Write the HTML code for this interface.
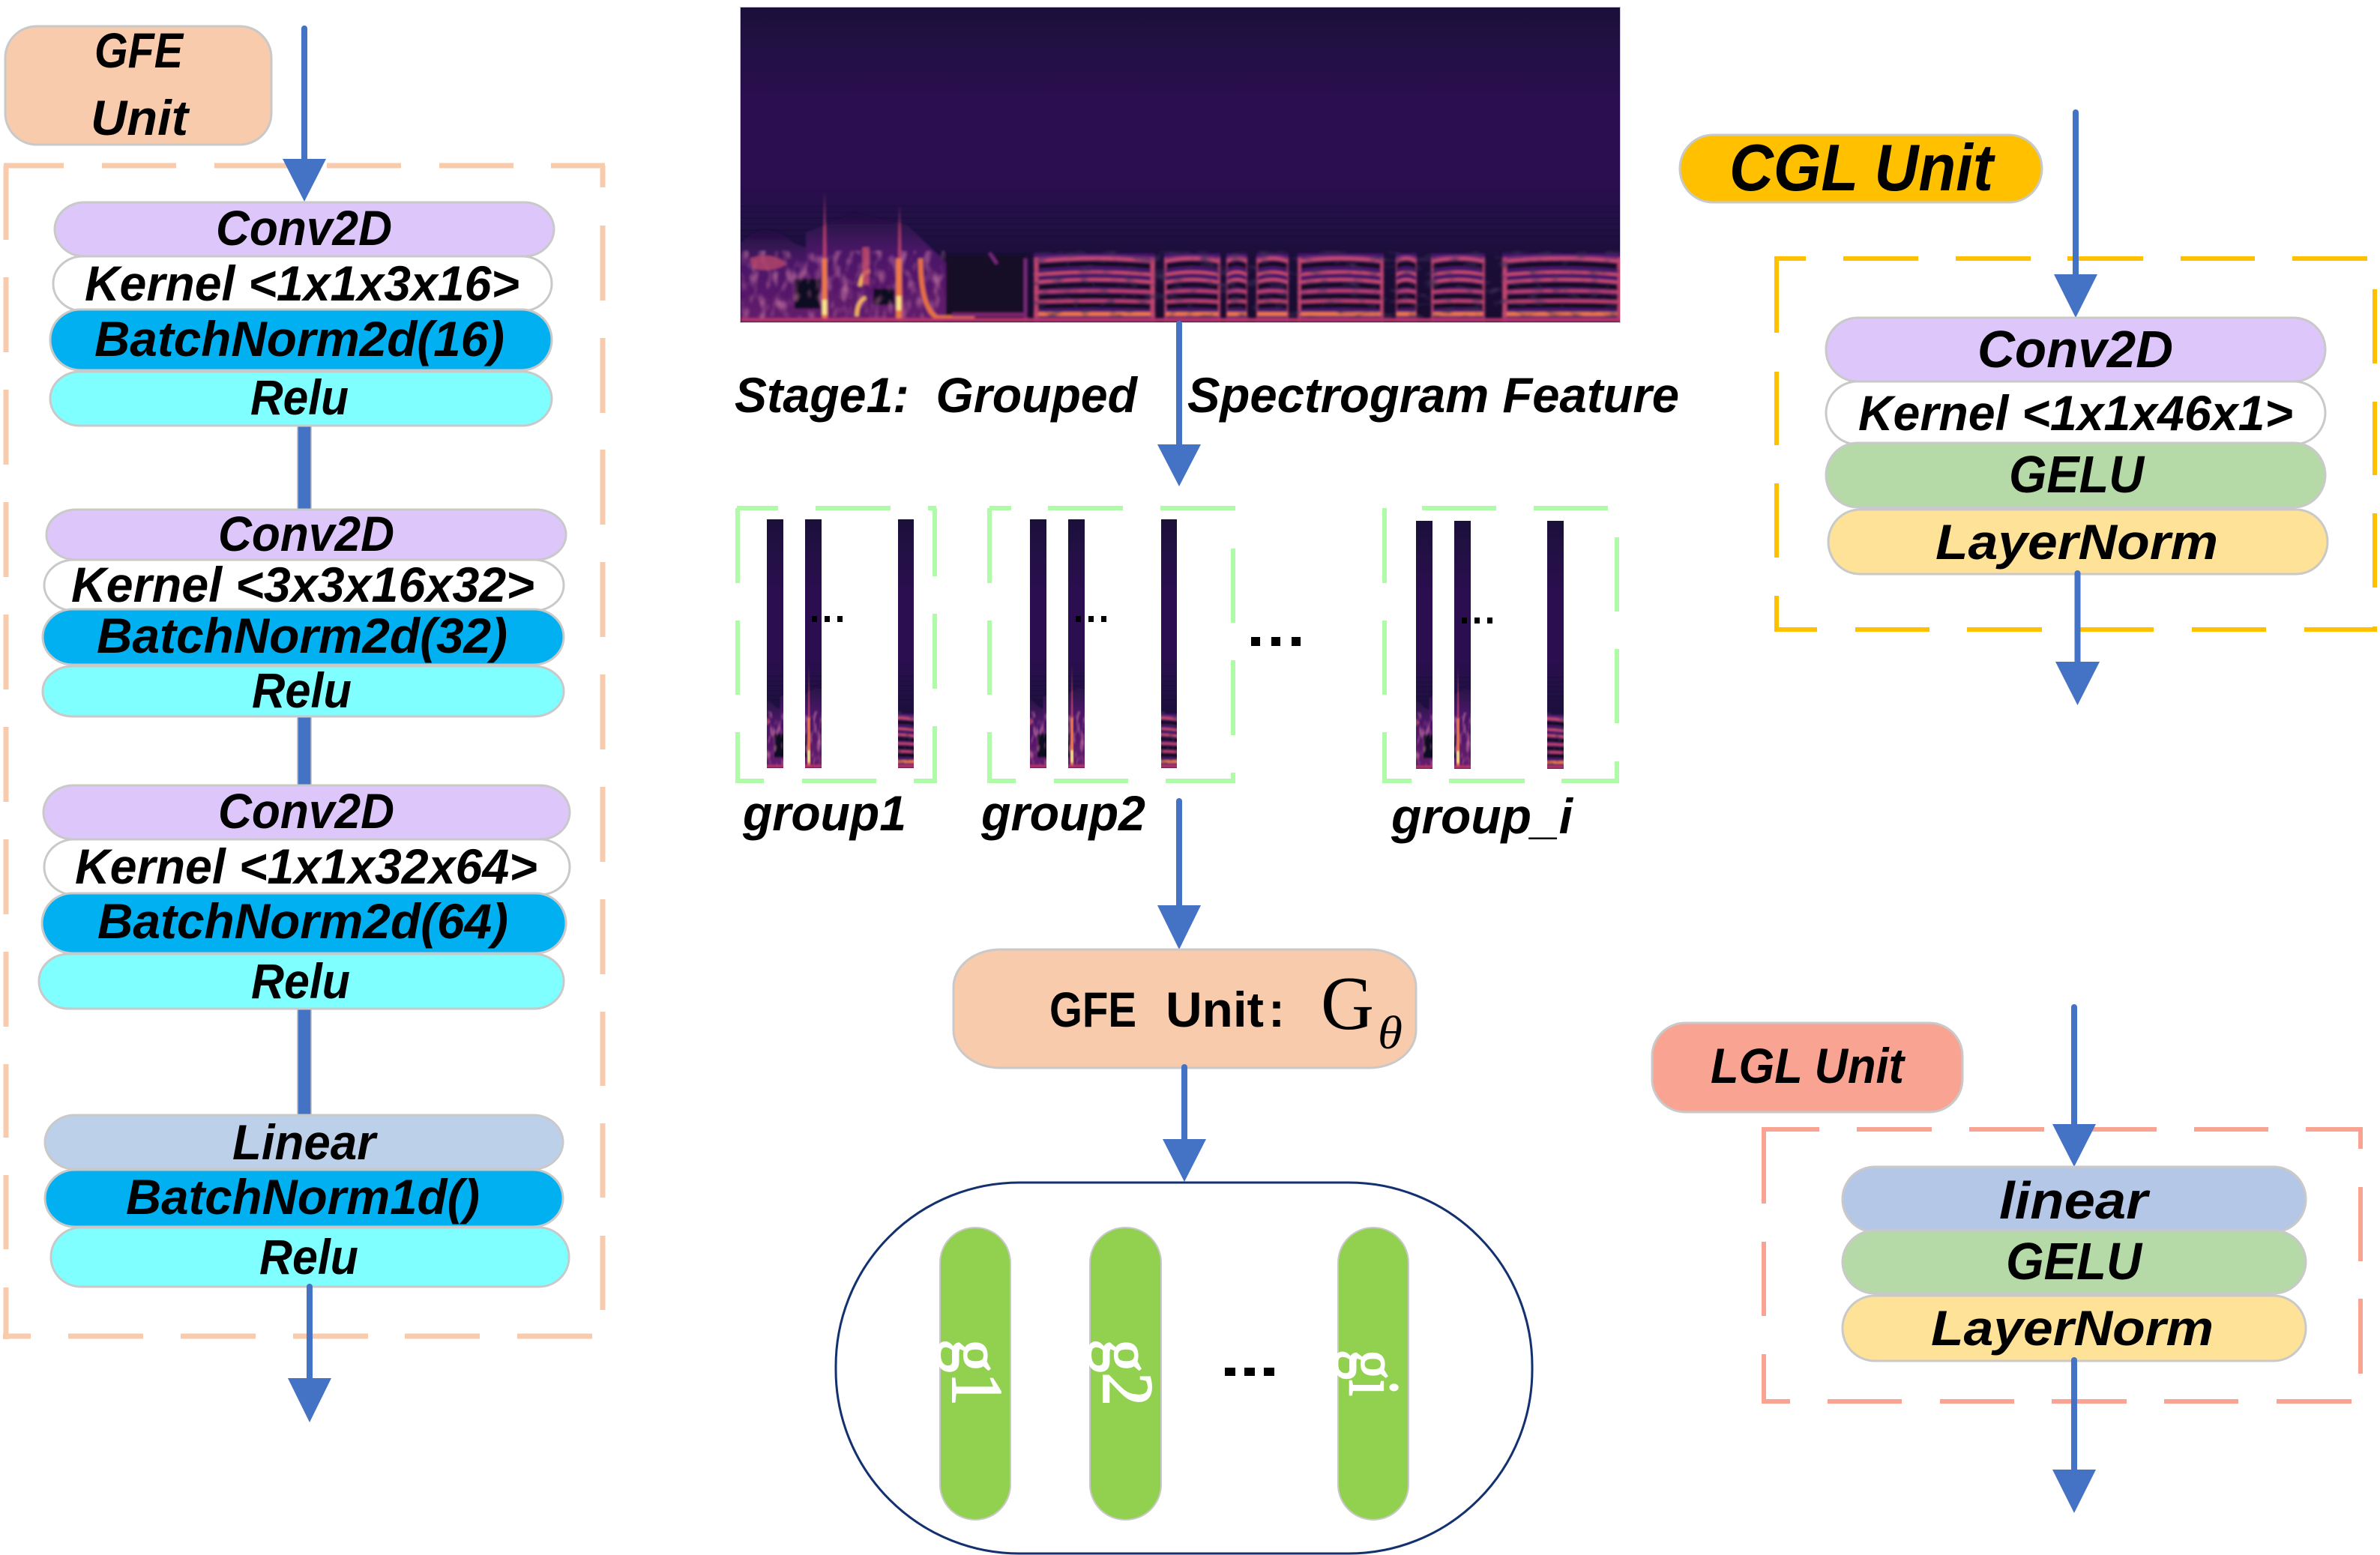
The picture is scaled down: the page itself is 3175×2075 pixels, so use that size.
<!DOCTYPE html>
<html><head><meta charset="utf-8"><title>GFE CGL LGL diagram</title>
<style>
html,body{margin:0;padding:0;background:#fff}
svg{display:block}
.t{font-family:"Liberation Sans",sans-serif;font-weight:bold;font-style:italic;font-size:66px;fill:#000;transform:translate(-2px,-1px)}
.p{stroke:#c9c9c9;stroke-width:3}
.a{stroke:#4472c4;stroke-width:8;stroke-linecap:round;fill:none}
.h{fill:#4472c4}
.c{fill:#4472c4;stroke:#b9b9b9;stroke-width:1.5}
.go{stroke:#f7cbac;stroke-width:7;fill:none}
.gy{stroke:#ffc000;stroke-width:6;fill:none}
.gs{stroke:#f9a392;stroke-width:6;fill:none}
.gg{stroke:#b0fba8;stroke-width:6;fill:none}
.d{fill:#000}
</style></head><body>
<svg xmlns="http://www.w3.org/2000/svg" width="3175" height="2075" viewBox="0 0 3175 2075">
<defs>
<linearGradient id="bg" x1="0" y1="0" x2="0" y2="1">
<stop offset="0" stop-color="#1a0f3a"/><stop offset=".12" stop-color="#221043"/><stop offset=".3" stop-color="#2b0e50"/><stop offset=".55" stop-color="#2b0e50"/><stop offset=".68" stop-color="#221045"/><stop offset=".76" stop-color="#1c0f3e"/><stop offset=".8" stop-color="#1a0e38"/><stop offset="1" stop-color="#170b2e"/>
</linearGradient>
<linearGradient id="lw" x1="0" y1="0" x2="0" y2="1">
<stop offset="0" stop-color="#20103f"/><stop offset=".35" stop-color="#4a1668"/><stop offset="1" stop-color="#641c6c"/>
</linearGradient>
<filter id="bl" x="-5%" y="-5%" width="110%" height="110%"><feGaussianBlur stdDeviation="1.6"/></filter>
<filter id="nd" x="0" y="0" width="100%" height="100%">
<feTurbulence type="fractalNoise" baseFrequency="0.05 0.12" numOctaves="2" seed="4"/>
<feColorMatrix values="0 0 0 0 .05  0 0 0 0 .03  0 0 0 0 .1  2.4 0 0 0 -1.25"/>
</filter>
<filter id="nm" x="0" y="0" width="100%" height="100%">
<feTurbulence type="fractalNoise" baseFrequency="0.09 0.05" numOctaves="2" seed="9"/>
<feColorMatrix values="0 0 0 0 .75  0 0 0 0 .25  0 0 0 0 .42  2.2 0 0 0 -1.05"/>
</filter>
<clipPath id="sc"><rect x="988" y="10" width="1173" height="420"/></clipPath>
<g id="ha" fill="none">
<rect x="0" y="8" width="100" height="92" fill="#45146a"/>
<path d="M0 26Q50 18 100 26M0 54Q50 46 100 54M0 67Q50 63 100 67M0 79Q50 76 100 79" stroke="#0c0716" stroke-width="6"/>
<path d="M0 15Q50 9 100 15" stroke="#85307e" stroke-width="2.5"/>
<path d="M0 19Q50 11 100 19M0 37Q50 29 100 37M0 47Q50 39 100 47" stroke="#d0506a" stroke-width="3.5"/>
<path d="M0 60Q50 56 100 60M0 73Q50 70 100 73" stroke="#c4456a" stroke-width="3.5"/>
<path d="M0 89L100 89" stroke="#f07848" stroke-width="5"/>
<path d="M2 14V100M98 14V100" stroke="#c04470" stroke-width="3.5"/>
<path d="M0 96L100 96" stroke="#a0306c" stroke-width="4"/>
</g>
<g id="spec" clip-path="url(#sc)">
<rect x="988" y="10" width="1173" height="420" fill="url(#bg)"/>
<g stroke="#150c2e" stroke-width="2" opacity=".3"><path d="M988 275H2161M988 283H2161M988 291H2161M988 299H2161M988 307H2161M988 315H2161"/></g>
<g filter="url(#bl)">
<path d="M988 430V325Q1020 290 1060 325L1090 335V430Z" fill="url(#lw)"/>
<path d="M1075 310L1140 285 1210 300 1262 350V430H1075Z" fill="url(#lw)"/>
<rect x="1060" y="372" width="34" height="40" fill="#110a22"/>
<rect x="1165" y="385" width="28" height="22" fill="#110a22"/>
<rect x="1262" y="340" width="110" height="90" fill="#130b26"/>
<rect x="988" y="335" width="272" height="95" filter="url(#nm)" opacity=".8"/>
<path d="M1000 345Q1030 335 1050 352Q1030 365 1005 358Z" fill="#b8476a" opacity=".8"/>
<path d="M1096 430L1100 255 1105 430Z" fill="#b8406c"/>
<path d="M1196 430L1200 272 1205 430Z" fill="#b8406c"/>
<path d="M1100 345V428" stroke="#f07a44" stroke-width="6"/>
<path d="M1199 345V425" stroke="#f07a44" stroke-width="7"/>
<path d="M1100 400V420M1199 395V414" stroke="#fbe48c" stroke-width="6"/>
<path d="M1143 422Q1143 402 1155 397M1147 382Q1150 362 1160 362" stroke="#f7b05a" stroke-width="5" fill="none"/>
<path d="M1228 345Q1228 410 1250 424H1300" stroke="#e8703f" stroke-width="6" fill="none"/>
<path d="M1155 330V380" stroke="#c84e6a" stroke-width="9" opacity=".8"/>
<path d="M1320 337L1330 352M1368 345V430" stroke="#7a2a80" stroke-width="4"/>
<path d="M1270 420H1370" stroke="#7d2872" stroke-width="5"/>
<use href="#ha" transform="translate(1379 330)scale(1.62 1)"/>
<use href="#ha" transform="translate(1553 330)scale(.75 1)"/>
<use href="#ha" transform="translate(1636 330)scale(.28 1)"/>
<use href="#ha" transform="translate(1676 330)scale(.43 1)"/>
<use href="#ha" transform="translate(1731 330)scale(1.15 1)"/>
<use href="#ha" transform="translate(1862 330)scale(.28 1)"/>
<use href="#ha" transform="translate(1909 330)scale(.72 1)"/>
<use href="#ha" transform="translate(2004 330)scale(1.6 1)"/>
<rect x="1379" y="335" width="782" height="95" filter="url(#nd)"/>
<path d="M988 427H2161" stroke="#b5366c" stroke-width="5"/>
</g>
</g>
</defs>
<rect width="3175" height="2075" fill="#fff"/>

<!-- GFE left -->
<rect x="7" y="35" width="355" height="158" rx="42" ry="42" fill="#f7cbac" class="p"/>
<text class="t" x="128" y="91" textLength="118" lengthAdjust="spacingAndGlyphs">GFE</text>
<text class="t" x="123" y="181" textLength="130" lengthAdjust="spacingAndGlyphs">Unit</text>

<path class="go" d="M8 221V320M8 370V470M8 520V620M8 670V770M8 820V920M8 970V1070M8 1120V1220M8 1270V1370M8 1420V1518M8 1568V1667M8 1718V1787"/>
<path class="go" d="M804 221V250M804 301V401M804 451V551M804 600V700M804 750V850M804 900V1000M804 1050V1150M804 1200V1300M804 1350V1449M804 1499V1598M804 1649V1748"/>
<path class="go" d="M5 221H85M136 221H235M286 221H386M436 221H535M586 221H685M735 221H807"/>
<path class="go" d="M4 1783H41M91 1783H191M241 1783H341M391 1783H491M540 1783H640M690 1783H790"/>

<rect class="c" x="397" y="566" width="18" height="116"/>
<rect class="c" x="397" y="954" width="18" height="96"/>
<rect class="c" x="397" y="1344" width="18" height="146"/>

<line class="a" x1="406" y1="38" x2="406" y2="220"/>
<path class="h" d="M377 212H435L406 269Z"/>

<rect class="p" x="73" y="270" width="666" height="72" rx="40" ry="36" fill="#dcc6fa"/>
<rect class="p" x="71" y="342" width="665" height="73" rx="40" ry="36" fill="#fff"/>
<rect class="p" x="67" y="413" width="669" height="81" rx="40" ry="40" fill="#00b0f0"/>
<rect class="p" x="67" y="496" width="669" height="72" rx="40" ry="36" fill="#7fffff"/>
<text class="t" x="290" y="328" textLength="235" lengthAdjust="spacingAndGlyphs">Conv2D</text>
<text class="t" x="115" y="402" textLength="580" lengthAdjust="spacingAndGlyphs">Kernel &lt;1x1x3x16&gt;</text>
<text class="t" x="128" y="476" textLength="547" lengthAdjust="spacingAndGlyphs">BatchNorm2d(16)</text>
<text class="t" x="336" y="554" textLength="131" lengthAdjust="spacingAndGlyphs">Relu</text>

<rect class="p" x="62" y="680" width="693" height="67" rx="40" ry="33" fill="#dcc6fa"/>
<rect class="p" x="59" y="747" width="693" height="68" rx="40" ry="34" fill="#fff"/>
<rect class="p" x="57" y="813" width="695" height="74" rx="40" ry="37" fill="#00b0f0"/>
<rect class="p" x="57" y="889" width="695" height="67" rx="40" ry="33" fill="#7fffff"/>
<text class="t" x="293" y="736" textLength="235" lengthAdjust="spacingAndGlyphs">Conv2D</text>
<text class="t" x="97" y="804" textLength="618" lengthAdjust="spacingAndGlyphs">Kernel &lt;3x3x16x32&gt;</text>
<text class="t" x="131" y="872" textLength="548" lengthAdjust="spacingAndGlyphs">BatchNorm2d(32)</text>
<text class="t" x="338" y="945" textLength="133" lengthAdjust="spacingAndGlyphs">Relu</text>

<rect class="p" x="58" y="1048" width="702" height="72" rx="40" ry="36" fill="#dcc6fa"/>
<rect class="p" x="59" y="1120" width="701" height="74" rx="40" ry="37" fill="#fff"/>
<rect class="p" x="56" y="1192" width="699" height="80" rx="40" ry="40" fill="#00b0f0"/>
<rect class="p" x="52" y="1273" width="700" height="73" rx="40" ry="36" fill="#7fffff"/>
<text class="t" x="293" y="1106" textLength="235" lengthAdjust="spacingAndGlyphs">Conv2D</text>
<text class="t" x="102" y="1180" textLength="617" lengthAdjust="spacingAndGlyphs">Kernel &lt;1x1x32x64&gt;</text>
<text class="t" x="132" y="1253" textLength="548" lengthAdjust="spacingAndGlyphs">BatchNorm2d(64)</text>
<text class="t" x="337" y="1333" textLength="132" lengthAdjust="spacingAndGlyphs">Relu</text>

<rect class="p" x="60" y="1488" width="691" height="72" rx="40" ry="36" fill="#bdd0e9"/>
<rect class="p" x="60" y="1561" width="691" height="76" rx="40" ry="38" fill="#00b0f0"/>
<rect class="p" x="68" y="1638" width="691" height="79" rx="40" ry="39" fill="#7fffff"/>
<text class="t" x="312" y="1548" textLength="191" lengthAdjust="spacingAndGlyphs">Linear</text>
<text class="t" x="170" y="1621" textLength="472" lengthAdjust="spacingAndGlyphs">BatchNorm1d()</text>
<text class="t" x="348" y="1701" textLength="132" lengthAdjust="spacingAndGlyphs">Relu</text>

<line class="a" x1="413" y1="1717" x2="413" y2="1845" stroke-linecap="butt"/>
<path class="h" d="M384 1839H442L413 1898Z"/>

<!-- Spectrogram -->
<rect x="987" y="9" width="1175" height="422" fill="#c8c8d0"/>
<use href="#spec"/>
<line class="a" x1="1573" y1="432" x2="1573" y2="600"/>
<path class="h" d="M1544 593H1602L1573 649Z"/>
<text class="t" x="982" y="551" textLength="537" lengthAdjust="spacingAndGlyphs" xml:space="preserve">Stage1:  Grouped</text>
<text class="t" x="1586" y="551" textLength="656" lengthAdjust="spacingAndGlyphs">Spectrogram Feature</text>

<!-- Groups -->
<path class="gg" d="M983 678H1038M1088 678H1188M1238 678H1249"/>
<path class="gg" d="M984 678V778M984 828V927M984 977V1042"/>
<path class="gg" d="M1247 678V769M1247 819V919M1247 969V1042"/>
<path class="gg" d="M981 1042H1019M1070 1042H1169M1219 1042H1250"/>
<path class="gg" d="M1320 678H1349M1398 678H1498M1548 678H1648"/>
<path class="gg" d="M1320 678V778M1320 828V927M1320 977V1042"/>
<path class="gg" d="M1645 732V831M1645 881V981M1645 1031V1042"/>
<path class="gg" d="M1317 1042H1355M1406 1042H1505M1555 1042H1648"/>
<path class="gg" d="M1897 678H1996M2046 678H2145"/>
<path class="gg" d="M1847 678V778M1847 828V927M1847 977V1042"/>
<path class="gg" d="M2157 717V816M2157 866V965M2157 1016V1042"/>
<path class="gg" d="M1844 1042H1883M1933 1042H2034M2083 1042H2160"/>

<svg x="1023" y="693" width="22" height="332" viewBox="1040 10 44 420" preserveAspectRatio="none"><use href="#spec"/></svg>
<svg x="1074" y="693" width="22" height="332" viewBox="1090 10 44 420" preserveAspectRatio="none"><use href="#spec"/></svg>
<svg x="1198" y="693" width="21" height="332" viewBox="1480 10 44 420" preserveAspectRatio="none"><use href="#spec"/></svg>
<svg x="1374" y="693" width="22" height="332" viewBox="1040 10 44 420" preserveAspectRatio="none"><use href="#spec"/></svg>
<svg x="1425" y="693" width="22" height="332" viewBox="1090 10 44 420" preserveAspectRatio="none"><use href="#spec"/></svg>
<svg x="1549" y="693" width="21" height="332" viewBox="1480 10 44 420" preserveAspectRatio="none"><use href="#spec"/></svg>
<svg x="1889" y="695" width="22" height="331" viewBox="1040 10 44 420" preserveAspectRatio="none"><use href="#spec"/></svg>
<svg x="1940" y="695" width="22" height="331" viewBox="1090 10 44 420" preserveAspectRatio="none"><use href="#spec"/></svg>
<svg x="2064" y="695" width="22" height="331" viewBox="1480 10 44 420" preserveAspectRatio="none"><use href="#spec"/></svg>

<g class="d">
<rect x="1083" y="822" width="7" height="8"/><rect x="1100" y="822" width="7" height="8"/><rect x="1117" y="822" width="7" height="8"/>
<rect x="1435" y="822" width="7" height="8"/><rect x="1452" y="822" width="7" height="8"/><rect x="1469" y="822" width="7" height="8"/>
<rect x="1950" y="824" width="7" height="8"/><rect x="1967" y="824" width="7" height="8"/><rect x="1984" y="824" width="7" height="8"/>
<rect x="1669" y="850" width="12" height="12"/><rect x="1696" y="850" width="12" height="12"/><rect x="1723" y="850" width="12" height="12"/>
<rect x="1634" y="1825" width="14" height="11"/><rect x="1660" y="1825" width="14" height="11"/><rect x="1686" y="1825" width="14" height="11"/>
</g>
<text class="t" x="993" y="1109" textLength="218" lengthAdjust="spacingAndGlyphs">group1</text>
<text class="t" x="1311" y="1109" textLength="219" lengthAdjust="spacingAndGlyphs">group2</text>
<text class="t" x="1858" y="1113" textLength="242" lengthAdjust="spacingAndGlyphs">group_i</text>

<line class="a" x1="1573" y1="1069" x2="1573" y2="1215"/>
<path class="h" d="M1544 1208H1602L1573 1267Z"/>

<!-- GFE center -->
<rect class="p" x="1272" y="1267" width="617" height="158" rx="62" ry="50" fill="#f7cbac"/>
<g style="font-family:'Liberation Sans',sans-serif;font-weight:bold;font-size:66px">
<text x="1400" y="1370" textLength="116" lengthAdjust="spacingAndGlyphs">GFE</text>
<text x="1555" y="1370" textLength="131" lengthAdjust="spacingAndGlyphs">Unit</text>
<text x="1692" y="1370">:</text>
</g>
<text x="1762" y="1373" style="font-family:'Liberation Serif',serif;font-size:102px" textLength="71" lengthAdjust="spacingAndGlyphs">G</text>
<text x="1838" y="1399" style="font-family:'Liberation Serif',serif;font-style:italic;font-size:62px" textLength="33" lengthAdjust="spacingAndGlyphs">θ</text>
<line class="a" x1="1580" y1="1424" x2="1580" y2="1525"/>
<path class="h" d="M1551 1520H1609L1580 1577Z"/>

<rect x="1115" y="1578" width="929" height="495" rx="245" ry="245" fill="none" stroke="#13306f" stroke-width="3"/>
<rect class="p" x="1254" y="1638" width="94" height="390" rx="47" ry="47" fill="#92d050" style="stroke-width:2"/>
<rect class="p" x="1454" y="1638" width="95" height="390" rx="47" ry="47" fill="#92d050" style="stroke-width:2"/>
<rect class="p" x="1785" y="1638" width="94" height="390" rx="47" ry="47" fill="#92d050" style="stroke-width:2"/>
<g style="font-family:'Liberation Serif',serif;font-size:96px;fill:#fff;stroke:#fff;stroke-width:2">
<text transform="translate(1271 1787) rotate(90)" textLength="89" lengthAdjust="spacingAndGlyphs">g1</text>
<text transform="translate(1472 1787) rotate(90)" textLength="89" lengthAdjust="spacingAndGlyphs">g2</text>
<text transform="translate(1801 1801) rotate(90)" textLength="62" lengthAdjust="spacingAndGlyphs">gi</text>
</g>

<!-- CGL -->
<rect class="p" x="2241" y="180" width="483" height="90" rx="44" ry="45" fill="#ffc000"/>
<text class="t" x="2309" y="255" textLength="352" lengthAdjust="spacingAndGlyphs" style="font-size:88px">CGL Unit</text>
<path class="gy" d="M2370 345H2409M2459 345H2559M2609 345H2709M2758 345H2859M2909 345H3008M3058 345H3158"/>
<path class="gy" d="M2370 342V444M2370 496V594M2370 645V744M2370 795V843"/>
<path class="gy" d="M3168 386V485M3168 536V634M3168 685V784M3168 836V843"/>
<path class="gy" d="M2367 840H2424M2475 840H2574M2624 840H2724M2774 840H2873M2924 840H3023M3074 840H3170"/>
<line class="a" x1="2769" y1="150" x2="2769" y2="372"/>
<path class="h" d="M2740 366H2798L2769 424Z"/>
<rect class="p" x="2436" y="424" width="666" height="85" rx="42" ry="42" fill="#dcc6fa"/>
<rect class="p" x="2436" y="509" width="666" height="84" rx="42" ry="42" fill="#fff"/>
<rect class="p" x="2436" y="591" width="666" height="86" rx="42" ry="43" fill="#b5d9a7"/>
<rect class="p" x="2439" y="680" width="666" height="86" rx="42" ry="43" fill="#fee298"/>
<text class="t" x="2640" y="491" textLength="261" lengthAdjust="spacingAndGlyphs" style="font-size:70px">Conv2D</text>
<text class="t" x="2481" y="575" textLength="580" lengthAdjust="spacingAndGlyphs">Kernel &lt;1x1x46x1&gt;</text>
<text class="t" x="2682" y="658" textLength="180" lengthAdjust="spacingAndGlyphs" style="font-size:70px">GELU</text>
<text class="t" x="2584" y="747" textLength="377" lengthAdjust="spacingAndGlyphs">LayerNorm</text>
<line class="a" x1="2771.5" y1="765" x2="2771.5" y2="888"/>
<path class="h" d="M2742 883H2801L2771.5 941Z"/>

<!-- LGL -->
<rect class="p" x="2204" y="1365" width="414" height="119" rx="44" ry="44" fill="#f9a392"/>
<text class="t" x="2284" y="1446" textLength="258" lengthAdjust="spacingAndGlyphs">LGL Unit</text>
<path class="gs" d="M2353 1507H2427M2477 1507H2577M2627 1507H2727M2777 1507H2877M2927 1507H3026M3076 1507H3151"/>
<path class="gs" d="M2353 1504V1606M2353 1657V1756M2353 1807V1873"/>
<path class="gs" d="M3149 1504V1533M3149 1584V1683M3149 1733V1833"/>
<path class="gs" d="M2350 1870H2388M2438 1870H2537M2588 1870H2687M2737 1870H2837M2887 1870H2986M3037 1870H3137"/>
<line class="a" x1="2767" y1="1344" x2="2767" y2="1505"/>
<path class="h" d="M2738 1500H2796L2767 1557Z"/>
<rect class="p" x="2458" y="1557" width="618" height="87" rx="43" ry="43" fill="#b5c7e6"/>
<rect class="p" x="2458" y="1642" width="618" height="84" rx="43" ry="42" fill="#b5d9a7"/>
<rect class="p" x="2458" y="1729" width="618" height="87" rx="43" ry="43" fill="#fee298"/>
<text class="t" x="2669" y="1627" textLength="198" lengthAdjust="spacingAndGlyphs" style="font-size:70px">linear</text>
<text class="t" x="2678" y="1708" textLength="181" lengthAdjust="spacingAndGlyphs" style="font-size:70px">GELU</text>
<text class="t" x="2578" y="1796" textLength="377" lengthAdjust="spacingAndGlyphs">LayerNorm</text>
<line class="a" x1="2767" y1="1815" x2="2767" y2="1966"/>
<path class="h" d="M2738 1961H2796L2767 2019Z"/>
</svg>
</body></html>
